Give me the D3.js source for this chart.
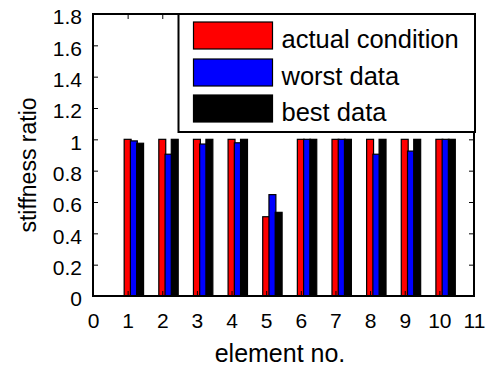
<!DOCTYPE html>
<html>
<head>
<meta charset="utf-8">
<script src="https://cdn.jsdelivr.net/npm/d3@7"></script>
<style>
  body { margin: 0; background: #fff; }
  text { font-family: Arial, "Liberation Sans", sans-serif; fill: #000; }
</style>
</head>
<body>
<script>
// data
const elements = [1, 2, 3, 4, 5, 6, 7, 8, 9, 10];
const actualCondition = [1, 1, 1, 1, 0.506, 1, 1, 1, 1, 1];
const worstData = [0.99, 0.905, 0.97, 0.978, 0.647, 1, 1, 0.905, 0.925, 1];
const bestData = [0.975, 1, 1, 1, 0.534, 1, 1, 1, 1, 1];
const seriesNames = ["actual condition", "worst data", "best data"];
const xTicks = [0, 1, 2, 3, 4, 5, 6, 7, 8, 9, 10, 11];
const yTicks = [0, 0.2, 0.4, 0.6, 0.8, 1, 1.2, 1.4, 1.6, 1.8];

const width = 488, height = 371;
const marginLeft = 93, marginRight = 14, marginTop = 14, marginBottom = 75;

const svg = d3.select("body").append("svg")
    .attr("width", width)
    .attr("height", height)
    .attr("viewBox", [0, 0, width, height]);

const x = d3.scaleLinear().domain([0, 11]).range([marginLeft, width - marginRight]);
const y = d3.scaleLinear().domain([0, 1.8]).range([height - marginBottom, marginTop]);

// each series is its own bar call, shifted right a bit (as in the original)
const series = [
  { values: actualCondition, color: "#ff0000", offset: 0 },
  { values: worstData, color: "#0000ff", offset: 0.18 },
  { values: bestData, color: "#000000", offset: 0.36 }
];
const barW = 0.2;

series.forEach(s => {
  svg.append("g")
    .selectAll("rect")
    .data(elements)
    .join("rect")
      .attr("x", (d, i) => x(d + s.offset - barW / 2))
      .attr("y", (d, i) => y(s.values[i]))
      .attr("width", x(barW) - x(0))
      .attr("height", (d, i) => y(0) - y(s.values[i]))
      .attr("fill", s.color)
      .attr("stroke", "#000")
      .attr("stroke-width", 1.2);
});

// axes with inward ticks, matlab style box
const tickFs = "21px";
svg.append("g")
    .attr("transform", `translate(0,${y(0)})`)
    .call(d3.axisBottom(x).tickValues(xTicks).tickSize(-5).tickPadding(17).tickFormat(d3.format("d")))
    .call(g => g.select(".domain").remove())
    .call(g => g.selectAll("text").attr("font-size", tickFs).attr("font-family", null));

svg.append("g")
    .attr("transform", `translate(0,${y(1.8)})`)
    .call(d3.axisTop(x).tickValues(xTicks).tickSize(-5).tickFormat(""))
    .call(g => g.select(".domain").remove());

svg.append("g")
    .attr("transform", `translate(${x(0)},0)`)
    .call(d3.axisLeft(y).tickValues(yTicks).tickSize(-5).tickPadding(11).tickFormat(d => d3.format("")(+d.toFixed(1))))
    .call(g => g.select(".domain").remove())
    .call(g => g.selectAll("text").attr("font-size", tickFs).attr("font-family", null)
        .attr("dy", "0.47em"));

svg.append("g")
    .attr("transform", `translate(${x(11)},0)`)
    .call(d3.axisRight(y).tickValues(yTicks).tickSize(-5).tickFormat(""))
    .call(g => g.select(".domain").remove());

svg.selectAll(".tick line").attr("stroke", "#000");

svg.append("rect")
    .attr("x", x(0)).attr("y", y(1.8))
    .attr("width", x(11) - x(0)).attr("height", y(0) - y(1.8))
    .attr("fill", "none").attr("stroke", "#000").attr("stroke-width", 2);

// axis titles
svg.append("text")
    .attr("x", 280)
    .attr("y", 362)
    .attr("text-anchor", "middle")
    .attr("font-size", "25px")
    .text("element no.");

svg.append("text")
    .attr("transform", `translate(36,165) rotate(-90)`)
    .attr("text-anchor", "middle")
    .attr("font-size", "23px")
    .text("stiffness ratio");

// legend
const legend = svg.append("g");
legend.append("rect")
    .attr("x", 178.5).attr("y", y(1.8))
    .attr("width", x(11) - 178.5 + 1).attr("height", 118)
    .attr("fill", "#fff").attr("stroke", "#000").attr("stroke-width", 2);

const rowY = [22, 59, 95];
const baseY = [48.3, 85, 120.5];
series.forEach((s, i) => {
  legend.append("rect")
      .attr("x", 193.5).attr("y", rowY[i])
      .attr("width", 79).attr("height", 27)
      .attr("fill", s.color).attr("stroke", "#000").attr("stroke-width", 1.2);
  legend.append("text")
      .attr("x", 281.5).attr("y", baseY[i])
      .attr("font-size", "25.5px")
      .text(seriesNames[i]);
});
</script>
</body>
</html>
